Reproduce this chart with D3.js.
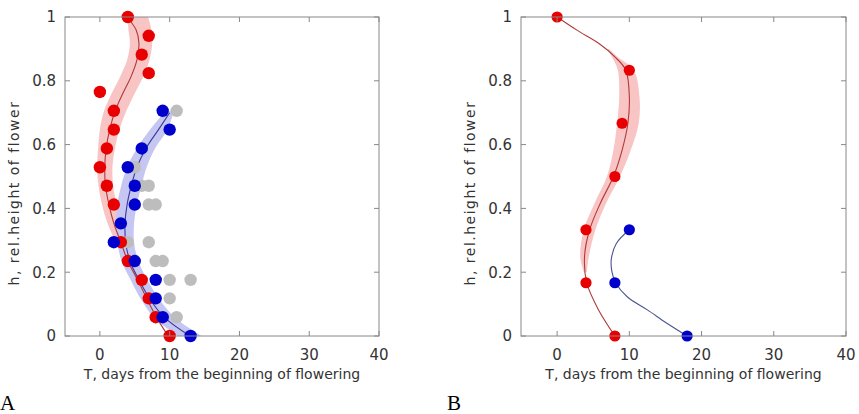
<!DOCTYPE html>
<html>
<head>
<meta charset="utf-8">
<script src="https://cdn.jsdelivr.net/npm/d3@7"></script>
<style>
  body { margin: 0; background: #fff; }
  text { font-family: "DejaVu Sans", sans-serif; fill: #333; }
</style>
</head>
<body>
<div id="chart"></div>
<script>
// axis ticks
const xTicks = [0, 10, 20, 30, 40];
const yTicks = [0, 0.2, 0.4, 0.6, 0.8, 1];

// panel A: observed points [T, h]
const aRedPts = [[4,1],[7,0.941],[6,0.882],[7,0.824],[0,0.765],[2,0.706],[2,0.647],[1,0.588],[0,0.529],
  [1,0.471],[2,0.412],[3,0.294],[4,0.235],[6,0.176],[7,0.118],[8,0.059],[10,0]];
const aBluePts = [[9,0.706],[10,0.647],[6,0.588],[4,0.529],[5,0.471],[5,0.412],[3,0.353],[2,0.294],
  [5,0.235],[8,0.176],[8,0.118],[9,0.059],[13,0]];
const aGrayPts = [[11,0.706],[5,0.529],[6,0.471],[7,0.471],[7,0.412],[8,0.412],[4,0.294],[7,0.294],
  [8,0.235],[9,0.235],[10,0.176],[13,0.176],[10,0.118],[11,0.059]];

// panel A: fitted curves [T, h] and bands [h, Tlow, Thigh]
const aRedFit = [[3.9,1],[5.2,0.959],[5.6,0.917],[5.3,0.865],[4.4,0.81],[3.3,0.761],[2.2,0.706],[1.4,0.647],
  [0.9,0.588],[0.7,0.529],[0.8,0.471],[1.3,0.412],[2.0,0.353],[3.0,0.294],[4.0,0.235],[5.4,0.176],
  [6.7,0.118],[8.1,0.059],[9.8,0]];
const aRedBand = [[1,4.0,6.9],[0.959,4.1,7.4],[0.917,4.3,7.5],[0.865,3.9,7.1],[0.813,2.9,6.2],[0.761,1.7,5.0],
  [0.706,0.6,3.8],[0.647,0.0,2.8],[0.588,-0.25,2.15],[0.529,-0.4,1.8],[0.471,-0.2,1.9],[0.412,0.3,2.4],
  [0.353,1.1,3.0],[0.294,2.3,3.7],[0.235,3.6,4.4],[0.176,5.1,5.7],[0.118,6.5,6.9],[0.059,8.0,8.2],[0,9.7,9.9]];
const aBlueFit = [[10,0.7],[8.4,0.647],[6.6,0.588],[5.3,0.529],[4.5,0.471],[3.9,0.412],[3.6,0.353],
  [3.7,0.294],[4.3,0.235],[5.6,0.176],[7.1,0.118],[9.2,0.059],[12.9,0]];
const aBlueBand = [[0.705,9.4,10.6],[0.647,7.2,9.7],[0.588,5.3,7.9],[0.529,3.9,6.7],[0.471,3.05,5.95],
  [0.412,2.5,5.3],[0.353,2.3,4.9],[0.294,2.5,4.9],[0.235,3.1,5.5],[0.176,4.4,6.8],[0.118,5.8,8.4],
  [0.059,7.7,10.7],[0,11.2,14.6]];

// panel B
const bRedPts = [[0,1],[10,0.833],[9,0.667],[8,0.5],[4,0.333],[4,0.167],[8,0]];
const bBluePts = [[10,0.333],[8,0.167],[18,0]];
const bRedFit = [[0,1],[2.8,0.958],[5.8,0.917],[8.0,0.875],[9.5,0.834],[10.0,0.75],[9.8,0.667],[9.0,0.583],
  [7.8,0.5],[6.0,0.417],[4.5,0.333],[3.8,0.25],[4.1,0.167],[5.7,0.083],[8,0]];
const bRedBand = [[0.9,7.0,7.2],[0.875,7.6,8.4],[0.834,8.4,10.6],[0.75,8.6,11.4],[0.667,8.3,11.3],
  [0.583,7.8,10.2],[0.5,6.9,8.7],[0.417,5.2,6.8],[0.333,3.7,5.3],[0.25,3.2,4.4],[0.2,3.7,4.1]];
const bBlueFit = [[10,0.333],[8.2,0.29],[7.5,0.24],[7.6,0.2],[8.1,0.167],[9.7,0.123],[12.5,0.082],
  [15.2,0.04],[18,0]];

const W = 859, H = 414;
const svg = d3.select("#chart").append("svg")
  .attr("width", W).attr("height", H);

function drawPanel(opt) {
  const x = d3.scaleLinear().domain([-5, 40]).range([opt.left, opt.right]);
  const y = d3.scaleLinear().domain([0, 1]).range([336, 17]);
  const g = svg.append("g");

  const line = d3.line()
    .x(d => x(d[0])).y(d => y(d[1]))
    .curve(d3.curveCatmullRom.alpha(0.5));
  const area = d3.area()
    .x0(d => x(d[1])).x1(d => x(d[2])).y(d => y(d[0]))
    .curve(d3.curveCatmullRom.alpha(0.5));

  // bands
  opt.bands.forEach(b => {
    g.append("path").datum(b.data).attr("d", area)
      .attr("fill", b.color).attr("stroke", "none");
  });
  // fitted lines
  opt.lines.forEach(l => {
    g.append("path").datum(l.data).attr("d", line)
      .attr("fill", "none").attr("stroke", l.color).attr("stroke-width", 1.1);
  });
  // points
  opt.points.forEach(p => {
    g.append("g").selectAll("circle").data(p.data).enter().append("circle")
      .attr("cx", d => x(d[0])).attr("cy", d => y(d[1]))
      .attr("r", opt.r).attr("fill", p.color);
  });

  // frame with inward ticks on all sides
  const frame = g.append("g").attr("stroke", "#888").attr("stroke-width", 1);
  frame.append("rect")
    .attr("x", opt.left).attr("y", 17)
    .attr("width", opt.right - opt.left).attr("height", 336 - 17)
    .attr("fill", "none");
  xTicks.forEach(t => {
    frame.append("line").attr("x1", x(t)).attr("x2", x(t)).attr("y1", 336).attr("y2", 331);
    frame.append("line").attr("x1", x(t)).attr("x2", x(t)).attr("y1", 17).attr("y2", 22);
  });
  yTicks.forEach(t => {
    frame.append("line").attr("x1", opt.left).attr("x2", opt.left + 5).attr("y1", y(t)).attr("y2", y(t));
    frame.append("line").attr("x1", opt.right).attr("x2", opt.right - 5).attr("y1", y(t)).attr("y2", y(t));
  });

  // tick labels
  g.append("g").selectAll("text").data(xTicks).enter().append("text")
    .attr("x", d => x(d)).attr("y", 360)
    .attr("text-anchor", "middle").style("font-size", "15px")
    .text(d => d);
  g.append("g").selectAll("text").data(yTicks).enter().append("text")
    .attr("x", opt.left - 9).attr("y", d => y(d)).attr("dy", "0.36em")
    .attr("text-anchor", "end").style("font-size", "15px")
    .text(d => d3.format("~g")(d));

  // axis titles
  g.append("text")
    .attr("x", (opt.left + opt.right) / 2).attr("y", 379)
    .attr("text-anchor", "middle").style("font-size", "14px")
    .text("T, days from the beginning of flowering");
  g.append("text")
    .attr("transform", `translate(${opt.ylabX},193) rotate(-90)`)
    .attr("text-anchor", "middle").style("font-size", "14px")
    .style("letter-spacing", "1.5px")
    .text("h, rel.height of flower");

  // panel letter
  g.append("text")
    .attr("x", opt.letterX).attr("y", 410)
    .style("font-family", "'Liberation Serif', serif").style("font-size", "21px")
    .style("fill", "#000")
    .text(opt.letter);
}

drawPanel({
  left: 65, right: 379, ylabX: 19, letterX: 0, letter: "A", r: 6.2,
  bands: [{data: aRedBand, color: "#f8c4c4"}, {data: aBlueBand, color: "#c6c6f2"}],
  lines: [{data: aRedFit, color: "#b03a3a"}, {data: aBlueFit, color: "#3c3c9a"}],
  points: [{data: aGrayPts, color: "#bdbdbd"}, {data: aRedPts, color: "#e80000"}, {data: aBluePts, color: "#0000cc"}]
});

drawPanel({
  left: 521, right: 846, ylabX: 475, letterX: 447, letter: "B", r: 5.6,
  bands: [{data: bRedBand, color: "#f8c4c4"}],
  lines: [{data: bRedFit, color: "#b03a3a"}, {data: bBlueFit, color: "#4a5590"}],
  points: [{data: bRedPts, color: "#e80000"}, {data: bBluePts, color: "#0000cc"}]
});
</script>
</body>
</html>
